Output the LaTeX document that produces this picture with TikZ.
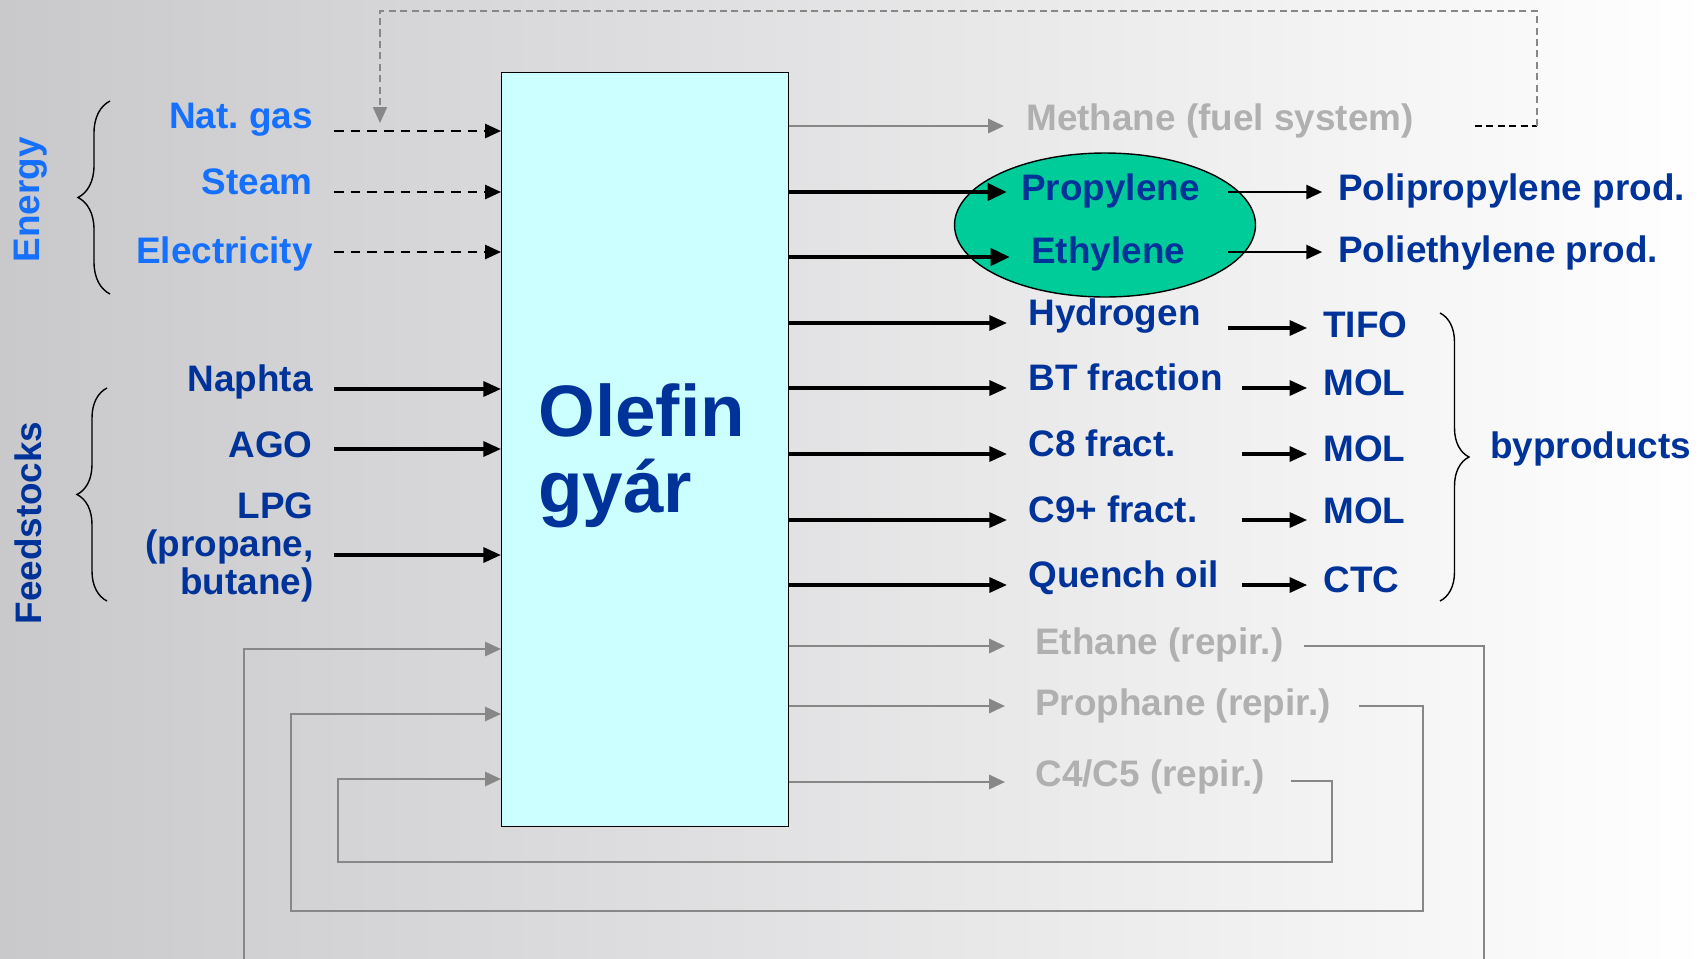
\documentclass[tikz,border=0pt]{standalone}
\usepackage{fontspec}
\setmainfont{Liberation Sans}
\usetikzlibrary{arrows.meta,shapes.geometric,decorations.pathreplacing}
\frenchspacing

\definecolor{navy}{HTML}{003399}
\definecolor{brightblue}{HTML}{1570FF}
\definecolor{plantcyan}{HTML}{CCFFFF}
\definecolor{olefingreen}{HTML}{00CC99}
\definecolor{recyclegray}{HTML}{878787}
\definecolor{recycletext}{HTML}{B0B0B0}
\definecolor{bgleft}{HTML}{C9C9CC}
\definecolor{bgmid}{HTML}{ECECEC}

\tikzset{
  lbl/.style={inner sep=0pt, font=\fontsize{21}{21.6}\selectfont\bfseries},
  energy/.style={lbl, text=brightblue},
  stream/.style={lbl, text=navy},
  recycle/.style={lbl, text=recycletext},
  head/.style={-{Triangle[length=9pt,width=8pt]}},
  feedline/.style={-{Triangle[length=10pt,width=8.5pt]}, line width=1.9pt},
  utilline/.style={head, line width=1.2pt, dash pattern=on 5.5pt off 4pt},
  mainline/.style={-{Triangle[length=11pt,width=9.5pt]}, line width=2.7pt},
  prodline/.style={head, line width=1.3pt, shorten >=9pt},
  grayline/.style={head, recyclegray, line width=1.5pt},
  loopline/.style={head, recyclegray, line width=1.2pt},
  fuelline/.style={line width=0.8pt, dash pattern=on 4pt off 2.5pt},
  curly/.style={decorate, decoration={brace, amplitude=#1}, line width=0.8pt},
}

\begin{document}
\begin{tikzpicture}[x=0.02cm, y=-0.02cm]
  \useasboundingbox (0,0) rectangle (1708,958);
  \shade[left color=bgleft, middle color=bgmid, right color=white] (0,0) rectangle (1708,958);
  \clip (0,0) rectangle (1708,958);

  % the plant
  \node[draw, line width=0.8pt, fill=plantcyan, minimum width=5.74cm, minimum height=15.08cm,
        anchor=north west, inner sep=0pt] (plant) at (501,72) {};
  \node[anchor=base west, inner sep=0pt, text=navy, font=\fontsize{41.5}{43}\selectfont\bfseries] (olefin) at (538,436) {Olefin};
  \node[anchor=base west, inner sep=0pt, text=navy, font=\fontsize{41.5}{43}\selectfont\bfseries] (gyar) at (538,512) {gyár};

  % energy
  \node[energy, rotate=90] (energy) at (31,200) {Energy};
  \draw[curly=0.64cm] (110,294) -- (110,101);
  \foreach \nm/\txt/\yb/\ya in {ng/Nat. gas/128/131, st/Steam/194/192, el/Electricity/263/252} {
    \node[energy, anchor=base east] (\nm) at (313,\yb) {\txt};
    \coordinate (\nm-s) at (334,\ya);
    \draw[utilline] (\nm-s) -- (\nm-s -| plant.west);
  }

  % feedstocks
  \node[stream, rotate=90] (feed) at (28,523) {Feedstocks};
  \draw[curly=0.6cm] (107,601) -- (107,388);
  \node[stream, anchor=base east] (naphta) at (313,391) {Naphta};
  \node[stream, anchor=base east] (ago) at (313,457) {AGO};
  \node[stream, anchor=north east, align=right] (lpg) at (314,492) {LPG\\(propane,\\butane)};
  \foreach \nm/\y in {naphta/389, ago/449, lpg/555} {
    \coordinate (\nm-s) at (334,\y);
    \draw[feedline] (\nm-s) -- (\nm-s -| plant.west);
  }

  % methane back to the fuel system
  \node[recycle, anchor=base west] (methane) at (1026,130) {Methane (fuel system)};
  \coordinate (methane-in) at (1004,126);
  \draw[grayline] (plant.east |- methane-in) -- (methane-in);
  \coordinate (methane-out) at (1475,126);
  \coordinate (fuel) at (1537,126);
  \coordinate (natgas-top) at (380,123);
  \draw[fuelline] (methane-out) -- (fuel);
  \draw[fuelline, recyclegray, head] (fuel) -- (1537,11) -- (380,11) -- (natgas-top);

  % olefins
  \node[draw, line width=0.8pt, fill=olefingreen, ellipse, minimum width=6.02cm,
        minimum height=2.88cm, inner sep=0pt] (olefins) at (1105,225) {};
  \node[stream, anchor=base west] (propylene) at (1021,200) {Propylene};
  \node[stream, anchor=base west] (ethylene) at (1031,263) {Ethylene};
  \coordinate (propylene-in) at (1007,192);
  \coordinate (ethylene-in) at (1010,257);
  \draw[mainline] (plant.east |- propylene-in) -- (propylene-in);
  \draw[mainline] (plant.east |- ethylene-in) -- (ethylene-in);
  \node[stream, anchor=base west] (pp) at (1338,200) {Polipropylene prod.};
  \node[stream, anchor=base west] (pe) at (1338,262) {Poliethylene prod.};
  \coordinate (propylene-o) at (1228,192);
  \coordinate (ethylene-o) at (1228,252);
  \draw[prodline] (propylene-o) -- (propylene-o -| pp.west);
  \draw[prodline] (ethylene-o) -- (ethylene-o -| pe.west);

  % byproducts
  \foreach \nm/\txt/\ya/\dst/\xo/\yo/\yd in {h2/Hydrogen/323/TIFO/1228/328/337,
      bt/BT fraction/388/MOL/1242/388/395, c8/C8 fract./454/MOL/1242/454/461,
      c9/C9+ fract./520/MOL/1242/520/523, qo/Quench oil/585/CTC/1242/585/592} {
    \node[stream, anchor=base west] (\nm) at (1028,\ya+2) {\txt};
    \coordinate (\nm-in) at (1007,\ya);
    \draw[feedline] (plant.east |- \nm-in) -- (\nm-in);
    \node[stream, anchor=base west] (\nm-dst) at (1323,\yd) {\dst};
    \coordinate (\nm-o) at (\xo,\yo);
    \draw[feedline, shorten >=9pt] (\nm-o) -- (\nm-o -| \nm-dst.west);
  }
  \draw[curly=0.58cm] (1440,313) -- (1440,601);
  \node[stream, anchor=base west] (byp) at (1490,458) {byproducts};

  % recycle streams
  \node[recycle, anchor=base west] (ethane) at (1035,654) {Ethane (repir.)};
  \coordinate (ethane-in) at (1005,646);
  \draw[grayline] (plant.east |- ethane-in) -- (ethane-in);
  \coordinate (ethane-out) at (1304,646);
  \coordinate (ethane-back) at (244,649);
  \draw[loopline] (ethane-out) -- (1484,646) -- (1484,990) -- (244,990) -- (ethane-back) -- (ethane-back -| plant.west);

  \node[recycle, anchor=base west] (propane) at (1035,715) {Prophane (repir.)};
  \coordinate (propane-in) at (1005,706);
  \draw[grayline] (plant.east |- propane-in) -- (propane-in);
  \coordinate (propane-out) at (1359,706);
  \coordinate (propane-back) at (291,714);
  \draw[loopline] (propane-out) -- (1423,706) -- (1423,911) -- (291,911) -- (propane-back) -- (propane-back -| plant.west);

  \node[recycle, anchor=base west] (c45) at (1035,786) {C4/C5 (repir.)};
  \coordinate (c45-in) at (1005,782);
  \draw[grayline] (plant.east |- c45-in) -- (c45-in);
  \coordinate (c45-out) at (1291,781);
  \coordinate (c45-back) at (338,779);
  \draw[loopline] (c45-out) -- (1332,781) -- (1332,862) -- (338,862) -- (c45-back) -- (c45-back -| plant.west);
\end{tikzpicture}
\end{document}
